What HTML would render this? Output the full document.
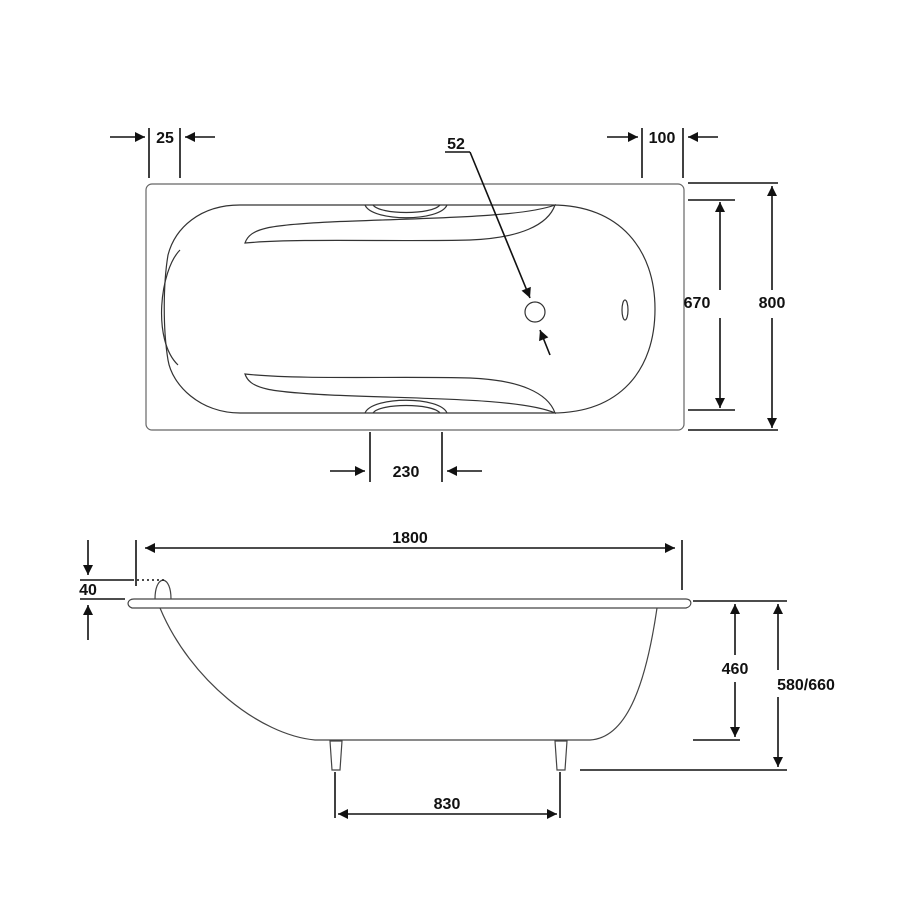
<!DOCTYPE html>
<html><head><style>
html,body{margin:0;padding:0;background:#fff;}
svg{display:block;}
text{font-family:"Liberation Sans",sans-serif;font-weight:bold;font-size:16px;fill:#111;text-anchor:middle;}
</style></head><body>
<svg width="900" height="900" viewBox="0 0 900 900" xmlns="http://www.w3.org/2000/svg">
<defs>
<marker id="a" viewBox="0 0 10 10" refX="10" refY="5" markerWidth="12" markerHeight="10" orient="auto-start-reverse" markerUnits="userSpaceOnUse">
<path d="M0,0 L10,5 L0,10 z" fill="#111"/></marker>
<marker id="b" viewBox="0 0 10 10" refX="10" refY="5" markerWidth="12" markerHeight="10" orient="auto-start-reverse" markerUnits="userSpaceOnUse">
<path d="M0,0 L10,5 L0,10 z" fill="#111"/></marker>
</defs>
<g fill="none" stroke="#333" stroke-width="1.2">
<rect x="146" y="184" width="538" height="246" rx="6" stroke="#666"/>
<path d="M240,205 L552,205 C620,205 655,250 655,309 C655,370 620,413 552,413 L240,413 C200,413 172,385 168,360 C163,330 163,285 168,255 C175,228 200,205 240,205 Z"/>
<path d="M180,250 C160,270 152,340 178,365"/>
<path d="M245,243 C250,228 270,225 330,222 C420,218 520,218 555,205 C548,225 520,238 470,240 C400,242 300,238 245,243 Z"/>
<path d="M245,374 C250,389 270,392 330,395 C420,399 520,398 555,413 C548,393 520,380 470,378 C400,376 300,380 245,374 Z"/>
<path d="M365,205 C372,222 440,222 447,205"/><path d="M373,205 C380,215 432,215 440,205"/>
<path d="M365,413 C372,396 440,396 447,413"/><path d="M373,413 C380,403 432,403 440,413"/>
<circle cx="535" cy="312" r="10"/>
<ellipse cx="625" cy="310" rx="3" ry="10"/>
</g>
<g stroke="#111" stroke-width="1.6" fill="none">
<line x1="445" y1="152" x2="470" y2="152"/>
<line x1="470" y1="152" x2="530" y2="298" marker-end="url(#b)"/>
<line x1="550" y1="355" x2="540" y2="330" marker-end="url(#b)"/>
<line x1="110" y1="137" x2="145" y2="137" marker-end="url(#a)"/>
<line x1="215" y1="137" x2="185" y2="137" marker-end="url(#a)"/>
<line x1="149" y1="128" x2="149" y2="178"/><line x1="180" y1="128" x2="180" y2="178"/>
<line x1="607" y1="137" x2="638" y2="137" marker-end="url(#a)"/>
<line x1="718" y1="137" x2="688" y2="137" marker-end="url(#a)"/>
<line x1="642" y1="128" x2="642" y2="178"/><line x1="683" y1="128" x2="683" y2="178"/>
<line x1="688" y1="183" x2="778" y2="183"/><line x1="688" y1="200" x2="735" y2="200"/>
<line x1="688" y1="410" x2="735" y2="410"/><line x1="688" y1="430" x2="778" y2="430"/>
<line x1="720" y1="290" x2="720" y2="202" marker-end="url(#a)"/>
<line x1="720" y1="318" x2="720" y2="408" marker-end="url(#a)"/>
<line x1="772" y1="290" x2="772" y2="186" marker-end="url(#a)"/>
<line x1="772" y1="318" x2="772" y2="428" marker-end="url(#a)"/>
<line x1="370" y1="432" x2="370" y2="482"/><line x1="442" y1="432" x2="442" y2="482"/>
<line x1="330" y1="471" x2="365" y2="471" marker-end="url(#a)"/>
<line x1="482" y1="471" x2="447" y2="471" marker-end="url(#a)"/>
</g>
<text x="456" y="149">52</text>
<text x="165" y="143">25</text>
<text x="662" y="143">100</text>
<text x="697" y="308">670</text>
<text x="772" y="308">800</text>
<text x="406" y="477">230</text>
<g fill="none" stroke="#444" stroke-width="1.2">
<path d="M132,608 C126,606 127,599 134,599 L686,599 C692,599 693,606 686,608 L132,608 Z"/>
<path d="M160,608 C190,680 260,735 315,740 L590,740 C625,738 645,690 657,608"/>
<path d="M155,599 C155,588 158,581 163,580 C168,581 171,588 171,599"/>
<path d="M330,741 L332,770 L340,770 L342,741 Z"/>
<path d="M555,741 L557,770 L565,770 L567,741 Z"/>
</g>
<g stroke="#111" stroke-width="1.6" fill="none">
<line x1="80" y1="580" x2="132" y2="580"/>
<line x1="132" y1="580" x2="165" y2="580" stroke-dasharray="2,3"/>
<line x1="80" y1="599" x2="125" y2="599"/>
<line x1="88" y1="540" x2="88" y2="575" marker-end="url(#a)"/>
<line x1="88" y1="640" x2="88" y2="605" marker-end="url(#a)"/>
<line x1="136" y1="540" x2="136" y2="586"/>
<line x1="682" y1="540" x2="682" y2="590"/>
<line x1="145" y1="548" x2="675" y2="548" marker-start="url(#b)" marker-end="url(#b)"/>
<line x1="693" y1="601" x2="787" y2="601"/>
<line x1="693" y1="740" x2="740" y2="740"/>
<line x1="580" y1="770" x2="787" y2="770"/>
<line x1="735" y1="655" x2="735" y2="604" marker-end="url(#b)"/>
<line x1="735" y1="682" x2="735" y2="737" marker-end="url(#b)"/>
<line x1="778" y1="670" x2="778" y2="604" marker-end="url(#b)"/>
<line x1="778" y1="697" x2="778" y2="767" marker-end="url(#b)"/>
<line x1="335" y1="772" x2="335" y2="818"/>
<line x1="560" y1="772" x2="560" y2="818"/>
<line x1="338" y1="814" x2="557" y2="814" marker-start="url(#b)" marker-end="url(#b)"/>
</g>
<text x="88" y="595">40</text>
<text x="410" y="543">1800</text>
<text x="735" y="674">460</text>
<text x="806" y="690">580/660</text>
<text x="447" y="809">830</text>
</svg>
</body></html>
